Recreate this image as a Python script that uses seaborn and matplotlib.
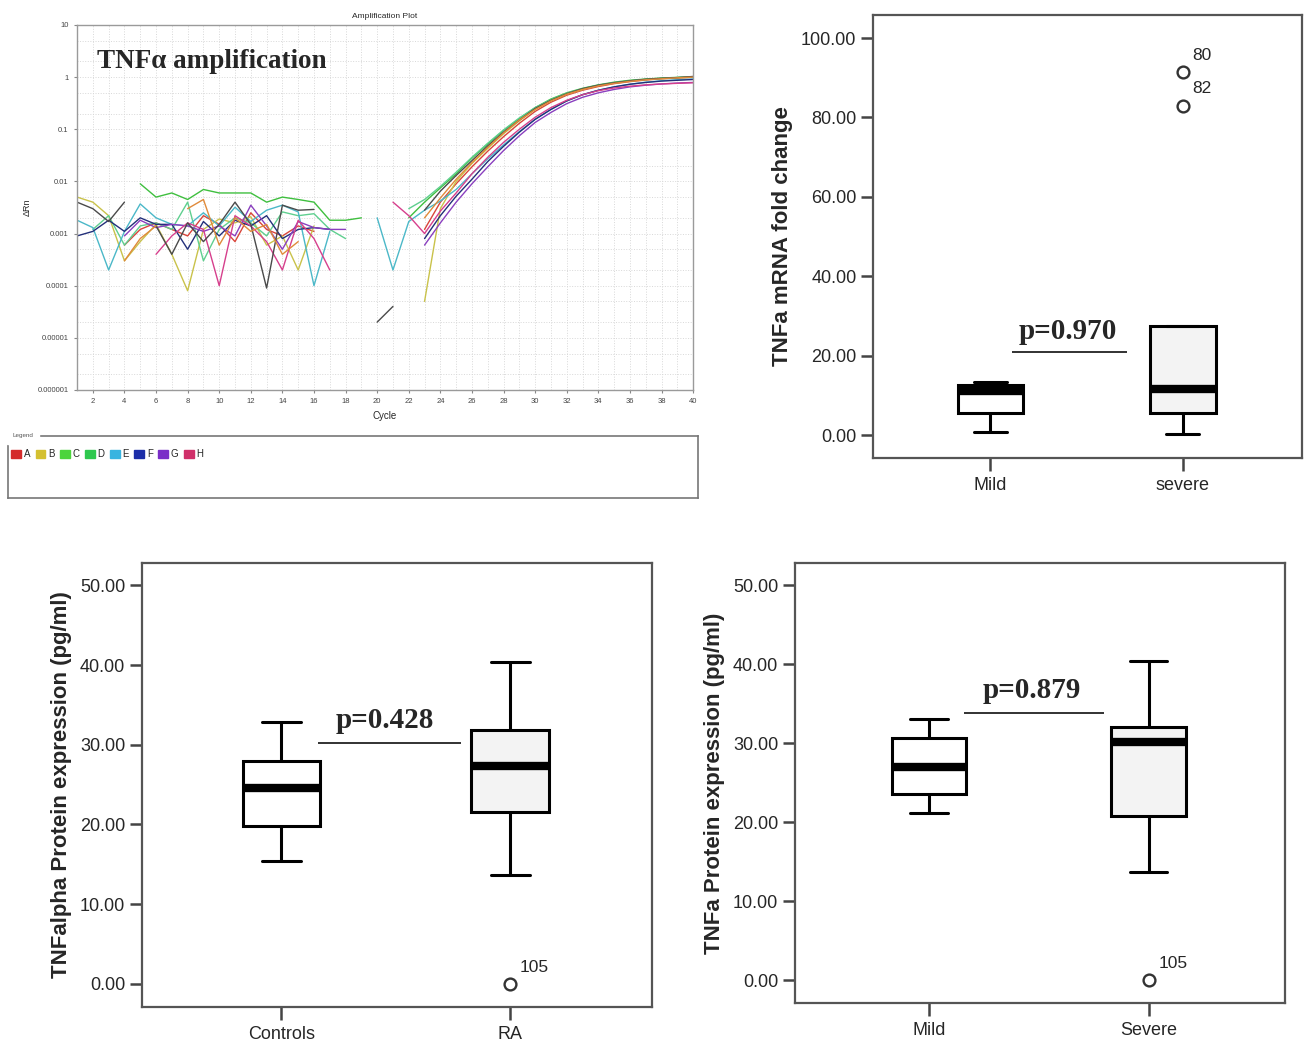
import numpy as np
import pandas as pd
import matplotlib
matplotlib.use("Agg")
import matplotlib.pyplot as plt
from matplotlib.patches import Patch
from matplotlib.ticker import LogLocator, FixedLocator, NullFormatter
import seaborn as sns

# ==========================================
# DATA
# ==========================================
n = np.nan
cycles = list(range(1, 41))

# Delta Rn per cycle (1..40) for each trace
well_a = [n, n, n, 0.0006, 0.0012, 0.0016, 0.0012, 0.0009, 0.0022, 0.0015, 0.0007, 0.0025, 0.0012, 0.0009, 0.0014, 0.0011, n, n, n,
          n, n, n, 0.0012, 0.004, 0.009, 0.019, 0.038, 0.072, 0.13, 0.22, 0.33, 0.45, 0.56, 0.66, 0.75, 0.82, 0.88, 0.93, 0.96, 0.99]
well_b = [0.005, 0.004, 0.0022, 0.0003, 0.0007, 0.0015, 0.0004, 0.00008, 0.0012, 0.0019, 0.0016, 0.0021, 0.0006, 0.0009, 0.0002, 0.0014, n, n, n,
          n, n, n, 0.00005, 0.003, 0.01, 0.022, 0.043, 0.082, 0.145, 0.24, 0.35, 0.47, 0.58, 0.69, 0.77, 0.84, 0.9, 0.94, 0.97, 1.0]
well_c = [n, n, n, n, 0.009, 0.005, 0.006, 0.0045, 0.007, 0.006, 0.006, 0.006, 0.004, 0.005, 0.0045, 0.004, 0.0018, 0.0018, 0.002,
          n, n, 0.002, 0.004, 0.0075, 0.014, 0.028, 0.052, 0.095, 0.16, 0.26, 0.38, 0.5, 0.61, 0.71, 0.8, 0.87, 0.92, 0.96, 0.99, 1.02]
well_d = [n, 0.0012, 0.0022, 0.0006, 0.0014, 0.0016, 0.0012, 0.004, 0.0003, 0.0012, 0.002, 0.0016, 0.0009, 0.0026, 0.0022, 0.0024, 0.0012, 0.0008, n,
          n, n, 0.003, 0.0045, 0.008, 0.015, 0.029, 0.054, 0.097, 0.165, 0.26, 0.37, 0.49, 0.6, 0.7, 0.78, 0.85, 0.9, 0.94, 0.98, 1.01]
well_e = [0.0018, 0.0013, 0.0002, 0.0011, 0.0037, 0.002, 0.0015, 0.0014, 0.0025, 0.0014, 0.0032, 0.0017, 0.0028, 0.0035, 0.0026, 0.0001, 0.0011, n, n,
          0.002, 0.0002, 0.0017, 0.0028, 0.0042, 0.007, 0.014, 0.027, 0.05, 0.09, 0.155, 0.24, 0.35, 0.46, 0.56, 0.65, 0.73, 0.8, 0.85, 0.89, 0.92]
well_f = [0.0009, 0.0011, 0.0018, 0.0011, 0.002, 0.0015, 0.0015, 0.0005, 0.0017, 0.0009, 0.0018, 0.0014, 0.0022, 0.0008, 0.0012, 0.0013, 0.0012, n, n,
          n, n, n, 0.0008, 0.0022, 0.0052, 0.011, 0.024, 0.047, 0.088, 0.155, 0.24, 0.35, 0.46, 0.56, 0.65, 0.73, 0.79, 0.84, 0.87, 0.9]
well_g = [n, n, n, 0.0009, 0.0018, 0.0013, 0.0015, 0.0014, 0.0011, 0.0014, 0.0009, 0.0035, 0.0014, 0.0005, 0.0017, 0.0013, 0.0012, 0.0012, n,
          n, n, n, 0.0006, 0.0016, 0.004, 0.009, 0.019, 0.039, 0.075, 0.135, 0.21, 0.31, 0.41, 0.5, 0.58, 0.65, 0.7, 0.74, 0.77, 0.79]
well_h = [n, n, n, n, n, 0.0004, 0.0009, 0.0016, 0.0012, 0.0001, 0.0022, 0.0014, 0.0007, 0.0002, 0.0018, 0.0008, 0.0002, n, n,
          n, 0.004, 0.0022, 0.001, 0.0027, 0.006, 0.014, 0.029, 0.056, 0.1, 0.17, 0.26, 0.36, 0.46, 0.55, 0.62, 0.67, 0.71, 0.74, 0.76, 0.78]
well_i = [0.004, 0.003, 0.0017, 0.004, n, 0.0014, 0.0004, 0.0016, 0.0007, 0.0015, 0.004, 0.0015, 0.00009, 0.0035, 0.0028, 0.0029, n, n, n,
          0.00002, 0.00004, n, 0.0028, 0.0065, 0.013, 0.025, 0.048, 0.088, 0.15, 0.25, 0.36, 0.48, 0.6, 0.7, 0.78, 0.85, 0.91, 0.95, 0.98, 1.03]
well_j = [n, n, n, 0.0003, 0.0008, 0.0014, n, 0.003, 0.0045, 0.0006, 0.002, 0.0011, 0.0015, 0.0004, 0.0007, n, n, n, n,
          n, n, n, 0.002, 0.0048, 0.011, 0.023, 0.045, 0.085, 0.15, 0.24, 0.35, 0.47, 0.58, 0.68, 0.76, 0.83, 0.89, 0.93, 0.97, 1.0]

wells = {"A": well_a, "B": well_b, "C": well_c, "D": well_d, "E": well_e,
         "F": well_f, "G": well_g, "H": well_h, "I": well_i, "J": well_j}
trace_colors = {"A": "#d9453a", "B": "#c9c24a", "C": "#3fbf3f", "D": "#5fcf8f", "E": "#4bb8c8",
                "F": "#23307a", "G": "#8a3fbf", "H": "#d63f8c", "I": "#4a4a4a", "J": "#e08a3a"}

legend_labels = ["A", "B", "C", "D", "E", "F", "G", "H"]
legend_colors = ["#d42a2a", "#d4c030", "#4cd43c", "#2ec84e", "#38b4e0", "#1c2ea8", "#7a2ec8", "#d0306a"]

# Box plots: five-number summaries [low whisker, Q1, median, Q3, high whisker]
mrna_groups = ["Mild", "severe"]
mrna_mild = [0.7, 5.5, 11.0, 12.5, 13.3]
mrna_severe = [0.2, 5.5, 11.5, 27.5, 27.5]
mrna_outliers = [91.5, 83.0]
mrna_outlier_ids = ["80", "82"]

ra_groups = ["Controls", "RA"]
ra_controls = [15.4, 19.8, 24.6, 28.0, 32.8]
ra_patients = [13.6, 21.6, 27.3, 31.8, 40.4]
ra_outliers = [0.0]
ra_outlier_ids = ["105"]

sev_groups = ["Mild", "Severe"]
sev_mild = [21.2, 23.6, 27.0, 30.7, 33.0]
sev_severe = [13.7, 20.8, 30.1, 32.0, 40.4]
sev_outliers = [0.0]
sev_outlier_ids = ["105"]

# ==========================================
# STYLE
# ==========================================
sns.set_style("white")
plt.rcParams["font.family"] = ["Liberation Sans", "DejaVu Sans"]
NARROW = ["Liberation Sans Narrow", "Liberation Sans", "DejaVu Sans"]
SERIF = ["Liberation Serif", "DejaVu Serif"]

fig = plt.figure(figsize=(13.06, 10.41), dpi=100)


def trace_frame():
    rows = []
    for well, vals in wells.items():
        seg = 0
        for c, v in zip(cycles, vals):
            if np.isnan(v):
                seg += 1
                continue
            rows.append((well, f"{well}{seg}", c, v))
    return pd.DataFrame(rows, columns=["well", "seg", "cycle", "drn"])


def amplification_panel():
    ax = fig.add_axes([0.059, 0.6254, 0.4717, 0.3506])
    df = trace_frame()
    sns.lineplot(data=df, x="cycle", y="drn", hue="well", units="seg", estimator=None,
                 palette=trace_colors, legend=False, linewidth=1.0, ax=ax)
    ax.set_yscale("log")
    ax.set_ylim(1e-6, 10)
    ax.set_xlim(1, 40)
    ax.set_xticks(range(2, 41, 2))
    ax.xaxis.set_minor_locator(FixedLocator(range(1, 41)))
    ax.yaxis.set_minor_locator(LogLocator(base=10, subs=(2.0, 5.0)))
    ax.yaxis.set_minor_formatter(NullFormatter())
    ax.set_yticks([1e-6, 1e-5, 1e-4, 1e-3, 1e-2, 1e-1, 1, 10])
    ax.set_yticklabels(["0.000001", "0.00001", "0.0001", "0.001", "0.01", "0.1", "1", "10"])
    ax.grid(which="both", color="#d8d8d8", linestyle=":", linewidth=0.7)
    ax.tick_params(labelsize=5.5, labelcolor="#444", length=2.5, color="#888",
                   left=True, bottom=True)
    ax.tick_params(which="minor", length=0)
    for s in ax.spines.values():
        s.set_color("#9a9a9a")
        s.set_linewidth(1.0)
    ax.set_xlabel("Cycle", fontsize=7, labelpad=4)
    ax.set_ylabel("ΔRn", fontsize=6.5, labelpad=4)
    ax.set_title("Amplification Plot", fontsize=6, pad=5)
    ax.text(0.033, 0.9, "TNFα amplification", transform=ax.transAxes, family=SERIF,
            fontsize=19.5, fontweight="bold", va="center", ha="left")

    lax = fig.add_axes([0.0061, 0.5216, 0.5283, 0.0596])
    lax.set_xticks([])
    lax.set_yticks([])
    for s in lax.spines.values():
        s.set_color("#777")
        s.set_linewidth(1.2)
    lax.text(0.006, 1.0, "Legend", transform=lax.transAxes, fontsize=4.5, color="#555",
             va="center", ha="left", backgroundcolor="white")
    handles = [Patch(facecolor=c, edgecolor=c, label=l) for l, c in zip(legend_labels, legend_colors)]
    lax.legend(handles=handles, ncol=8, loc="upper left", bbox_to_anchor=(-0.004, 0.88),
               frameon=False, fontsize=7, handlelength=1.0, handleheight=1.0,
               handletextpad=0.3, columnspacing=0.55, borderaxespad=0.2)


def box_panel(rect, groups, stats, outlier_group, outliers, outlier_ids,
              ylim, yticks, ylabel, ptext, pline_y, pline_x, ptext_xy):
    ax = fig.add_axes(rect)
    df = pd.DataFrame({"group": np.repeat(groups, 5), "value": np.concatenate(stats)})
    sns.boxplot(data=df, x="group", y="value", hue="group", order=groups,
                palette={groups[0]: "white", groups[1]: "#f3f3f3"},
                width=0.34, whis=(0, 100), linewidth=2.2, linecolor="black",
                showfliers=False, legend=False,
                medianprops=dict(linewidth=6, color="black", solid_capstyle="butt"), ax=ax)
    out_df = pd.DataFrame({"group": [outlier_group] * len(outliers), "value": outliers})
    sns.stripplot(data=out_df, x="group", y="value", order=groups, jitter=False,
                  color="white", edgecolor="#333", linewidth=1.7, size=8.5, ax=ax, zorder=5)
    gx = groups.index(outlier_group)
    for v, lab in zip(outliers, outlier_ids):
        ax.annotate(lab, (gx, v), xytext=(7, 12), textcoords="offset points",
                    fontsize=12.5, va="center", ha="left")
    ax.hlines(pline_y, pline_x[0], pline_x[1], color="#222", linewidth=1.3)
    ax.text(ptext_xy[0], ptext_xy[1], ptext, family=SERIF, fontsize=21,
            fontweight="bold", ha="center", va="bottom")

    ax.set_xlim(-0.61, 1.62)
    ax.set_ylim(*ylim)
    ax.set_yticks(yticks)
    ax.set_yticklabels([f"{t:.2f}" for t in yticks])
    ax.set_xlabel("")
    ax.set_ylabel(ylabel, family=NARROW, fontsize=16, fontweight="bold", labelpad=6)
    ax.tick_params(axis="both", direction="out", length=9, width=1.8, color="#444",
                   labelsize=13, pad=3, left=True, bottom=True)
    ax.tick_params(axis="x", pad=5)
    for s in ax.spines.values():
        s.set_visible(True)
        s.set_color("#555")
        s.set_linewidth(1.6)
    return ax


amplification_panel()

box_panel([0.6685, 0.56, 0.3285, 0.4256], mrna_groups, [mrna_mild, mrna_severe],
          "severe", mrna_outliers, mrna_outlier_ids,
          (-5.8, 105.8), [0, 20, 40, 60, 80, 100], "TNFa mRNA fold change",
          "p=0.970", 21.0, (0.11, 0.71), (0.40, 22.6))

box_panel([0.1087, 0.0327, 0.3905, 0.4265], ra_groups, [ra_controls, ra_patients],
          "RA", ra_outliers, ra_outlier_ids,
          (-2.9, 52.8), [0, 10, 20, 30, 40, 50], "TNFalpha Protein expression (pg/ml)",
          "p=0.428", 30.2, (0.16, 0.785), (0.45, 31.4))

box_panel([0.6087, 0.0365, 0.3752, 0.4227], sev_groups, [sev_mild, sev_severe],
          "Severe", sev_outliers, sev_outlier_ids,
          (-2.9, 52.8), [0, 10, 20, 30, 40, 50], "TNFa Protein expression (pg/ml)",
          "p=0.879", 33.8, (0.16, 0.795), (0.47, 35.0))

fig.savefig("out.png", dpi=100)
